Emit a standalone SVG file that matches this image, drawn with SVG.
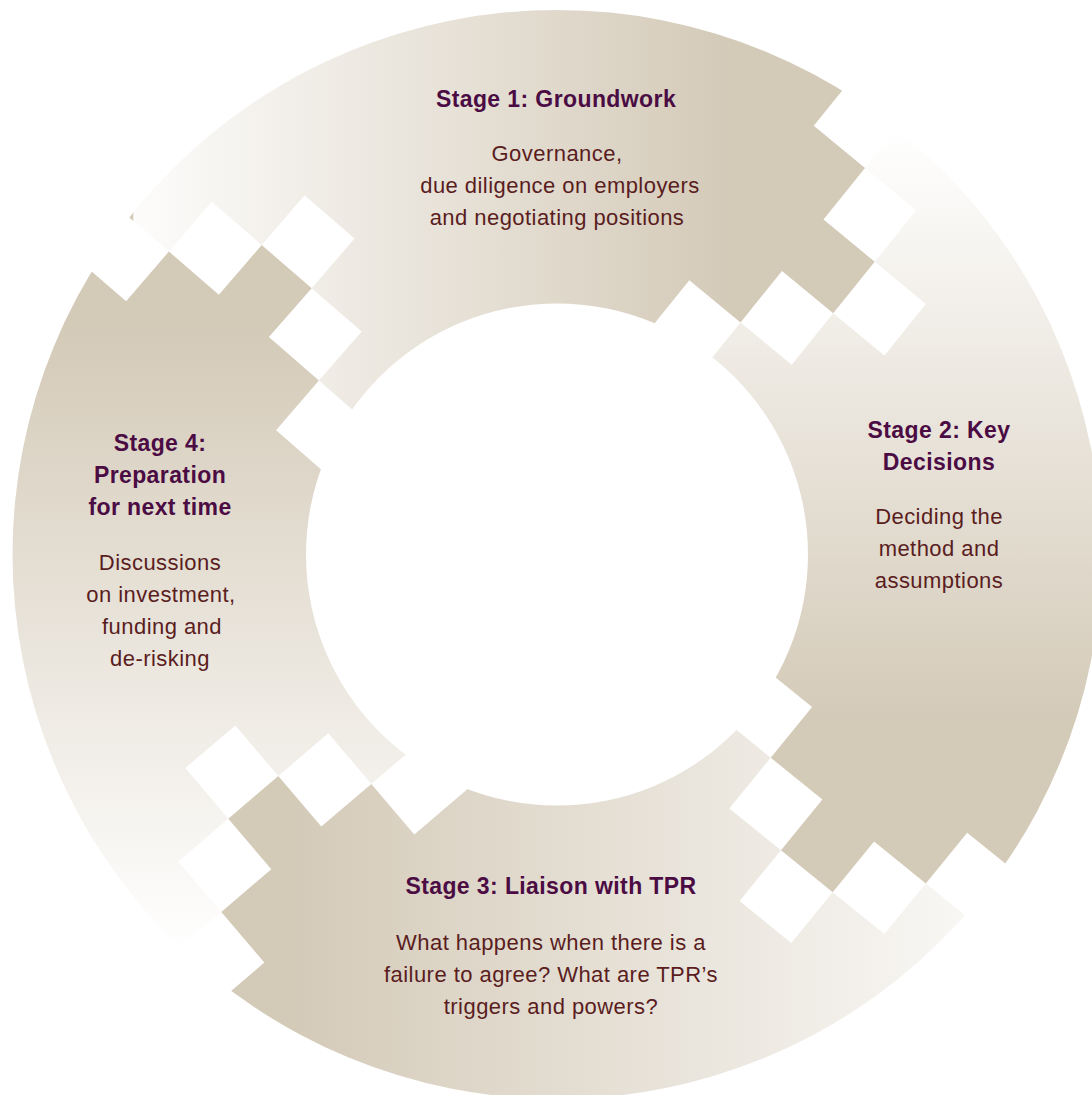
<svg xmlns="http://www.w3.org/2000/svg" width="1092" height="1095" viewBox="0 0 1092 1095">
  <defs>
    <!-- each quarter fades from white at its clockwise start to tan at its end -->
    <linearGradient id="g1" gradientUnits="userSpaceOnUse" x1="100" y1="0" x2="730" y2="0">
      <stop offset="0" stop-color="#ffffff"/>
      <stop offset="1" stop-color="#d4cab8"/>
    </linearGradient>
    <linearGradient id="g2" gradientUnits="userSpaceOnUse" x1="0" y1="130" x2="0" y2="720">
      <stop offset="0" stop-color="#ffffff"/>
      <stop offset="1" stop-color="#d4cab8"/>
    </linearGradient>
    <linearGradient id="g3" gradientUnits="userSpaceOnUse" x1="1080" y1="0" x2="290" y2="0">
      <stop offset="0" stop-color="#ffffff"/>
      <stop offset="1" stop-color="#d4cab8"/>
    </linearGradient>
    <linearGradient id="g4" gradientUnits="userSpaceOnUse" x1="0" y1="950" x2="0" y2="330">
      <stop offset="0" stop-color="#ffffff"/>
      <stop offset="1" stop-color="#d4cab8"/>
    </linearGradient>
    <!-- annulus: outer r 544.5, inner r 251 -->
    <clipPath id="ring">
      <path clip-rule="evenodd" d="M 12.5 554.5 A 544.5 544.5 0 1 0 1101.5 554.5 A 544.5 544.5 0 1 0 12.5 554.5 Z M 306 554.5 A 251 251 0 1 0 808 554.5 A 251 251 0 1 0 306 554.5 Z"/>
    </clipPath>
  </defs>
  <style>
    .title { font-family: "Liberation Sans", Arial, sans-serif; font-weight: bold; font-size: 23px; letter-spacing: 0.4px; fill: #4b0c44; text-anchor: middle; }
    .body { font-family: "Liberation Sans", Arial, sans-serif; font-size: 22px; letter-spacing: 0.45px; fill: #5a1d1e; text-anchor: middle; }
  </style>

  <rect width="1092" height="1095" fill="#ffffff"/>

  <g id="stage1">
    <path clip-path="url(#ring)" fill="url(#g1)" d="M 18.9 121.6 L 168.9 251.5 L 211.7 201.7 L 261.7 245 L 304.5 195.2 L 354.5 238.5 L 311.7 288.3 L 361.7 331.6 L 318.9 380.4 L 468.9 511.3 L 606.3 383.3 L 689.3 280.3 L 740.5 322.5 L 782 271 L 833.2 313.2 L 874.7 261.7 L 823.5 219.5 L 865 168 L 813.8 125.8 L 896.8 22.8 L 900 -300 L 0 -300 Z"/>
    <text class="title" x="556" y="107">Stage 1: Groundwork</text>
    <text class="body" x="557" y="161">Governance,</text>
    <text class="body" x="560" y="193">due diligence on employers</text>
    <text class="body" x="557" y="225">and negotiating positions</text>
  </g>

  <g id="stage2">
    <path clip-path="url(#ring)" fill="url(#g2)" d="M 948 65 L 865 168 L 916.2 210.2 L 874.7 261.7 L 925.9 303.9 L 884.4 355.4 L 833.2 313.2 L 791.7 364.7 L 740.5 322.5 L 657.5 425.5 L 708.7 623.2 L 812.1 707 L 770.7 757.7 L 822.4 799.6 L 781 850.3 L 832.7 892.2 L 874.1 841.5 L 925.8 883.4 L 967.2 832.7 L 1070.6 916.5 L 1400 1000 L 1400 -100 Z"/>
    <text class="title" x="939" y="438">Stage 2: Key</text>
    <text class="title" x="939" y="470">Decisions</text>
    <text class="body" x="939" y="524">Deciding the</text>
    <text class="body" x="939" y="556">method and</text>
    <text class="body" x="939" y="588">assumptions</text>
  </g>

  <g id="stage3">
    <path clip-path="url(#ring)" fill="url(#g3)" d="M 667.3 673.9 L 770.7 757.7 L 729.3 808.4 L 781 850.3 L 739.6 901 L 791.3 942.9 L 832.7 892.2 L 884.4 934.1 L 925.8 883.4 L 1080.9 1009.1 L 1100 1400 L 0 1400 L 114.3 1090.7 L 264.3 962.6 L 221.3 912 L 271.3 869.3 L 228.3 818.7 L 278.3 776 L 321.3 826.6 L 371.3 783.9 L 414.3 834.5 L 564.3 706.4 Z"/>
    <text class="title" x="551" y="894">Stage 3: Liaison with TPR</text>
    <text class="body" x="551" y="950">What happens when there is a</text>
    <text class="body" x="551" y="982">failure to agree? What are TPR’s</text>
    <text class="body" x="551" y="1014">triggers and powers?</text>
  </g>

  <g id="stage4">
    <path clip-path="url(#ring)" fill="url(#g4)" d="M 71.3 1040.1 L 221.3 912 L 178.3 861.4 L 228.3 818.7 L 185.3 768.1 L 235.3 725.4 L 278.3 776 L 328.3 733.3 L 371.3 783.9 L 521.3 655.8 L 426.1 561.1 L 276.1 430.2 L 318.9 380.4 L 268.9 337.1 L 311.7 288.3 L 261.7 245 L 218.9 294.8 L 168.9 251.5 L 126.1 301.3 L -23.9 171.4 L -400 171 L -400 1040 Z"/>
    <!-- small tip of this quarter showing at the outer rim -->
    <path clip-path="url(#ring)" fill="url(#g4)" d="M 118.9 208.4 L 133.3 195 L 133.3 220.9 Z"/>
    <text class="title" x="160" y="451">Stage 4:</text>
    <text class="title" x="160" y="483">Preparation</text>
    <text class="title" x="160" y="515">for next time</text>
    <text class="body" x="160" y="570">Discussions</text>
    <text class="body" x="161" y="602">on investment,</text>
    <text class="body" x="162" y="634">funding and</text>
    <text class="body" x="160" y="666">de-risking</text>
  </g>
</svg>
